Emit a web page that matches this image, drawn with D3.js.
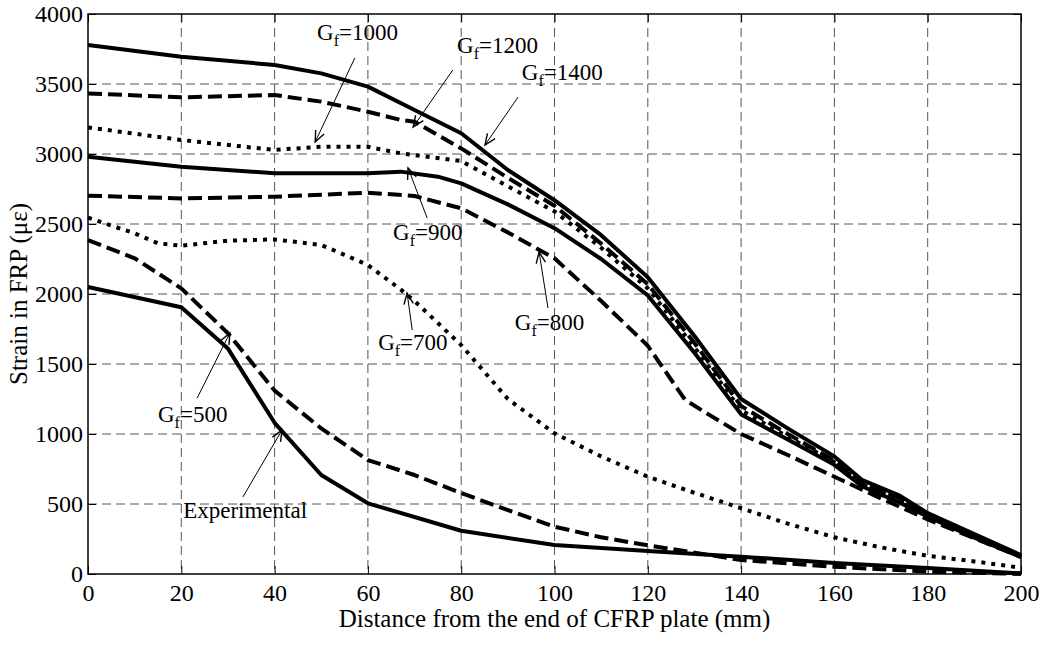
<!DOCTYPE html>
<html>
<head>
<meta charset="utf-8">
<script src="https://cdn.jsdelivr.net/npm/d3@7"></script>
<style>
  html, body { margin: 0; padding: 0; background: #fff; }
  svg { display: block; }
  text { font-family: "Liberation Serif", "Times New Roman", serif; fill: #000; }
</style>
</head>
<body>
<svg id="chart" width="1044" height="648"></svg>
<script>
// ---------------- data ----------------
const xTicks = [0, 20, 40, 60, 80, 100, 120, 140, 160, 180, 200];
const yTicks = [0, 500, 1000, 1500, 2000, 2500, 3000, 3500, 4000];
const xLabel = "Distance from the end of CFRP plate (mm)";
const yLabel = "Strain in FRP (με)";

const expX   = [0, 20, 30, 40, 50, 60, 80, 100, 120, 140, 160, 180, 200];
const expY   = [2050, 1905, 1610, 1080, 707, 505, 309, 207, 165, 124, 78, 43, 5];

const gf500X = [0, 10, 20, 30, 40, 50, 60, 70, 80, 90, 100, 110, 120, 140, 160, 180, 200];
const gf500Y = [2385, 2255, 2040, 1720, 1310, 1040, 814, 707, 578, 457, 338, 262, 205, 100, 52, 17, 0];

const gf700X = [0, 10, 15, 20, 30, 40, 50, 55, 60, 67, 70, 80, 90, 100, 110, 120, 130, 140, 150, 160, 170, 180, 190, 200];
const gf700Y = [2545, 2433, 2362, 2345, 2381, 2390, 2350, 2280, 2207, 2033, 1950, 1635, 1250, 1005, 840, 695, 580, 470, 360, 262, 190, 130, 90, 45];

const gf800X = [0, 20, 40, 60, 70, 80, 90, 100, 110, 120, 128, 133, 140, 150, 160, 170, 180, 190, 200];
const gf800Y = [2702, 2683, 2695, 2724, 2700, 2612, 2440, 2255, 1950, 1630, 1243, 1140, 1000, 850, 695, 540, 390, 255, 122];

const gf900X = [0, 20, 40, 60, 67, 75, 80, 90, 100, 110, 120, 130, 140, 150, 160, 166, 174, 180, 190, 200];
const gf900Y = [2980, 2909, 2862, 2862, 2874, 2838, 2790, 2640, 2470, 2250, 1990, 1580, 1140, 960, 780, 625, 510, 410, 260, 120];

const gf1000X = [0, 20, 40, 50, 60, 67, 80, 90, 100, 110, 120, 130, 140, 150, 160, 166, 174, 180, 190, 200];
const gf1000Y = [3190, 3100, 3029, 3052, 3052, 3005, 2950, 2770, 2590, 2330, 2040, 1620, 1170, 980, 800, 640, 530, 420, 270, 125];

const gf1200X = [0, 20, 40, 50, 60, 67, 70, 80, 90, 100, 110, 120, 130, 140, 150, 160, 166, 174, 180, 190, 200];
const gf1200Y = [3433, 3405, 3421, 3374, 3302, 3243, 3230, 3040, 2830, 2630, 2360, 2070, 1650, 1200, 1000, 810, 650, 540, 430, 275, 130];

const gf1400X = [0, 20, 40, 50, 60, 70, 80, 90, 100, 110, 120, 130, 140, 150, 160, 166, 174, 180, 190, 200];
const gf1400Y = [3779, 3695, 3636, 3576, 3481, 3314, 3148, 2886, 2670, 2420, 2120, 1700, 1250, 1040, 840, 670, 560, 435, 285, 135];

const seriesNames = ["Experimental", "Gf=500", "Gf=700", "Gf=800", "Gf=900", "Gf=1000", "Gf=1200", "Gf=1400"];
const seriesX = [expX, gf500X, gf700X, gf800X, gf900X, gf1000X, gf1200X, gf1400X];
const seriesY = [expY, gf500Y, gf700Y, gf800Y, gf900Y, gf1000Y, gf1200Y, gf1400Y];
const seriesStyle = ["solid", "dashed", "dotted", "dashed", "solid", "dotted", "dashed", "solid"];

// annotation labels (data coordinates): text position, arrow tail, arrow head
const annSub   = ["f", "f", "f", "f", "f", "f", "f", ""];
const annMain  = ["=1000", "=1200", "=1400", "=900", "=800", "=700", "=500", "Experimental"];
const annPre   = ["G", "G", "G", "G", "G", "G", "G", ""];
const annTextX = [49.1, 79.1, 93.0, 65.4, 91.5, 62.2, 15.0, 20.4];
const annTextY = [3814, 3721, 3529, 2386, 1743, 1600, 1086, 400];
const annTailX = [57.2, 78.2, 92.2, 72.7, 98.6, 69.5, 23.4, 33.2];
const annTailY = [3686, 3600, 3407, 2543, 1900, 1743, 1257, 550];
const annHeadX = [48.7, 69.7, 85.1, 68.6, 96.7, 68.4, 30.4, 41.6];
const annHeadY = [3086, 3193, 3064, 2900, 2300, 2007, 1721, 1029];

// ---------------- layout ----------------
const svg = d3.select("#chart");
const L = 88, R = 1021, T = 14, B = 574;
const x = d3.scaleLinear().domain([0, 200]).range([L, R]);
const y = d3.scaleLinear().domain([0, 4000]).range([B, T]);

// grid
const grid = svg.append("g");
grid.selectAll("line.gx").data(xTicks.slice(1, -1)).enter().append("line")
  .attr("x1", d => x(d)).attr("x2", d => x(d)).attr("y1", T).attr("y2", B)
  .attr("stroke", "#555").attr("stroke-width", 1).attr("stroke-dasharray", "9,5");
grid.selectAll("line.gy").data(yTicks.slice(1, -1)).enter().append("line")
  .attr("x1", L).attr("x2", R).attr("y1", d => y(d)).attr("y2", d => y(d))
  .attr("stroke", "#555").attr("stroke-width", 1).attr("stroke-dasharray", "9,5");

// axes
const fsTick = 24, fsAnn = 23, fsTitle = 25;
const xAxis = d3.axisBottom(x).tickValues(xTicks).tickSize(-8).tickPadding(10).tickFormat(d3.format("d"));
const yAxis = d3.axisLeft(y).tickValues(yTicks).tickSize(-8).tickPadding(5).tickFormat(d3.format("d"));
const gx = svg.append("g").attr("transform", `translate(0,${B})`).call(xAxis);
const gy = svg.append("g").attr("transform", `translate(${L},0)`).call(yAxis);
const gx2 = svg.append("g").attr("transform", `translate(0,${T})`).call(d3.axisTop(x).tickValues(xTicks).tickSize(-8).tickFormat(""));
const gy2 = svg.append("g").attr("transform", `translate(${R},0)`).call(d3.axisRight(y).tickValues(yTicks).tickSize(-8).tickFormat(""));
[gx, gy, gx2, gy2].forEach(g => {
  g.select(".domain").remove();
  g.selectAll(".tick line").attr("stroke", "#000").attr("stroke-width", 1);
  g.selectAll("text").style("font-family", "Liberation Serif").style("font-size", fsTick + "px").attr("fill", "#000");
});

// series
const line = d3.line().x(d => x(d[0])).y(d => y(d[1]));
const dash = { solid: null, dashed: "14,6", dotted: "4,6" };
seriesNames.forEach((n, i) => {
  const pts = seriesX[i].map((v, j) => [v, seriesY[i][j]]);
  svg.append("path").datum(pts)
    .attr("d", line)
    .attr("fill", "none")
    .attr("stroke", "#000")
    .attr("stroke-width", 4)
    .attr("stroke-linejoin", "round")
    .attr("stroke-dasharray", dash[seriesStyle[i]]);
});

// box
svg.append("rect").attr("x", L).attr("y", T).attr("width", R - L).attr("height", B - T)
  .attr("fill", "none").attr("stroke", "#000").attr("stroke-width", 1.5);

// annotations
annMain.forEach((m, i) => {
  const x1 = x(annTailX[i]), y1 = y(annTailY[i]);
  const x2 = x(annHeadX[i]), y2 = y(annHeadY[i]);
  svg.append("line").attr("x1", x1).attr("y1", y1).attr("x2", x2).attr("y2", y2)
    .attr("stroke", "#000").attr("stroke-width", 1);
  const ang = Math.atan2(y2 - y1, x2 - x1);
  const len = 12, w = 0.4;
  const p1 = [x2 - len * Math.cos(ang - w), y2 - len * Math.sin(ang - w)];
  const p2 = [x2 - len * Math.cos(ang + w), y2 - len * Math.sin(ang + w)];
  svg.append("path")
    .attr("d", `M${p1[0]},${p1[1]}L${x2},${y2}L${p2[0]},${p2[1]}`)
    .attr("fill", "none").attr("stroke", "#000").attr("stroke-width", 1.4);

  const t = svg.append("text").attr("x", x(annTextX[i])).attr("y", y(annTextY[i]))
    .style("font-size", fsAnn + "px");
  if (annPre[i]) {
    t.append("tspan").text(annPre[i]);
    t.append("tspan").text(annSub[i]).style("font-size", "16px").attr("dy", 6);
    t.append("tspan").text(m).attr("dy", -6);
  } else {
    t.text(m);
  }
});

// axis titles
svg.append("text").attr("x", (L + R) / 2).attr("y", 627).attr("text-anchor", "middle")
  .style("font-size", fsTitle + "px").text(xLabel);
svg.append("text").attr("transform", `translate(27,${(T + B) / 2}) rotate(-90)`)
  .attr("text-anchor", "middle").style("font-size", fsTitle + "px").text(yLabel);
</script>
</body>
</html>
